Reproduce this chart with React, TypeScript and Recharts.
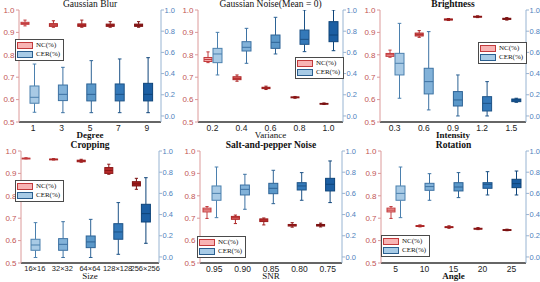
import React from "react";
import { ComposedChart, Bar, XAxis, YAxis, Legend } from "recharts";

type Stats = [number, number, number, number, number]; // min, q1, median, q3, max

// ---------- data ----------
const blurCats = ["1", "3", "5", "7", "9"];
const blurNC: Stats[] = [
  [0.929, 0.936, 0.94, 0.945, 0.955],
  [0.923, 0.927, 0.933, 0.939, 0.952],
  [0.923, 0.927, 0.932, 0.938, 0.955],
  [0.923, 0.927, 0.932, 0.937, 0.948],
  [0.923, 0.927, 0.932, 0.937, 0.948],
];
const blurCER: Stats[] = [
  [0.035, 0.12, 0.176, 0.283, 0.49],
  [0.031, 0.145, 0.204, 0.292, 0.459],
  [0.031, 0.142, 0.204, 0.302, 0.522],
  [0.031, 0.142, 0.204, 0.302, 0.538],
  [0.031, 0.142, 0.204, 0.308, 0.55],
];

const noiseCats = ["0.2", "0.4", "0.6", "0.8", "1.0"];
const noiseNC: Stats[] = [
  [0.765, 0.77, 0.779, 0.788, 0.813],
  [0.682, 0.689, 0.695, 0.702, 0.71],
  [0.645, 0.649, 0.652, 0.655, 0.66],
  [0.606, 0.608, 0.61, 0.612, 0.614],
  [0.578, 0.58, 0.582, 0.583, 0.585],
];
const noiseCER: Stats[] = [
  [0.387, 0.503, 0.585, 0.638, 0.789],
  [0.497, 0.613, 0.648, 0.701, 0.827],
  [0.585, 0.638, 0.695, 0.764, 0.931],
  [0.607, 0.676, 0.723, 0.811, 1.0],
  [0.616, 0.701, 0.764, 0.89, 1.0],
];

const brightCats = ["0.3", "0.6", "0.9", "1.2", "1.5"];
const brightNC: Stats[] = [
  [0.789, 0.793, 0.8, 0.806, 0.821],
  [0.878, 0.884, 0.89, 0.897, 0.908],
  [0.953, 0.955, 0.958, 0.96, 0.962],
  [0.966, 0.968, 0.97, 0.972, 0.974],
  [0.955, 0.958, 0.961, 0.963, 0.966],
];
const brightCER: Stats[] = [
  [0.167, 0.387, 0.497, 0.591, 0.874],
  [0.057, 0.208, 0.324, 0.45, 0.796],
  [0.0, 0.094, 0.151, 0.23, 0.387],
  [0.0, 0.047, 0.119, 0.182, 0.324],
  [0.129, 0.135, 0.151, 0.16, 0.167],
];

const cropCats = ["16×16", "32×32", "64×64", "128×128", "256×256"];
const cropNC: Stats[] = [
  [0.965, 0.966, 0.967, 0.968, 0.97],
  [0.96, 0.962, 0.963, 0.964, 0.966],
  [0.95, 0.952, 0.956, 0.959, 0.963],
  [0.896, 0.9, 0.913, 0.926, 0.941],
  [0.829, 0.844, 0.853, 0.863, 0.878],
];
const cropCER: Stats[] = [
  [-0.005, 0.063, 0.113, 0.167, 0.324],
  [-0.005, 0.063, 0.119, 0.173, 0.333],
  [-0.005, 0.088, 0.142, 0.198, 0.355],
  [0.025, 0.167, 0.236, 0.314, 0.513],
  [0.129, 0.33, 0.409, 0.497, 0.748],
];

const spCats = ["0.95", "0.90", "0.85", "0.80", "0.75"];
const spNC: Stats[] = [
  [0.699, 0.728, 0.737, 0.745, 0.752],
  [0.676, 0.695, 0.702, 0.708, 0.714],
  [0.67, 0.685, 0.692, 0.697, 0.701],
  [0.66, 0.665, 0.669, 0.672, 0.68],
  [0.661, 0.665, 0.669, 0.672, 0.678],
];
const spCER: Stats[] = [
  [0.371, 0.535, 0.6, 0.67, 0.849],
  [0.45, 0.585, 0.638, 0.679, 0.78],
  [0.503, 0.597, 0.648, 0.695, 0.818],
  [0.535, 0.632, 0.67, 0.701, 0.796],
  [0.513, 0.623, 0.686, 0.742, 0.906],
];

const rotCats = ["5", "10", "15", "20", "25"];
const rotNC: Stats[] = [
  [0.699, 0.728, 0.736, 0.745, 0.752],
  [0.661, 0.663, 0.665, 0.667, 0.67],
  [0.655, 0.658, 0.66, 0.662, 0.666],
  [0.649, 0.651, 0.653, 0.655, 0.658],
  [0.644, 0.646, 0.647, 0.649, 0.651],
];
const rotCER: Stats[] = [
  [0.371, 0.535, 0.6, 0.67, 0.849],
  [0.535, 0.629, 0.664, 0.695, 0.786],
  [0.56, 0.623, 0.66, 0.701, 0.796],
  [0.585, 0.648, 0.686, 0.701, 0.805],
  [0.585, 0.654, 0.692, 0.733, 0.811],
];

const leftTicks = [0.5, 0.6, 0.7, 0.8, 0.9, 1.0];
const rightTicks = [0, 0.2, 0.4, 0.6, 0.8, 1.0];

// ---------- styles ----------
const NC_FILL = ["#f6a9a9", "#e36d6d", "#cc3a3a", "#b72828", "#a51d1d"];
const NC_STROKE = ["#c23a3c", "#ae2727", "#9b1c1c", "#8a1616", "#7a1111"];
const CER_FILL = ["#a8cae5", "#82b2d9", "#5b98c9", "#3479b9", "#1c5fa3"];
const CER_STROKE = ["#4b80ae", "#3d72a3", "#2d6395", "#1d5387", "#0e4479"];

const legendItems = [
  { name: "NC(%)", fill: "#f8b4b4", stroke: "#c23a3c" },
  { name: "CER(%)", fill: "#a8cbe6", stroke: "#2b5f8f" },
];

const SERIF = "'Liberation Serif', 'Times New Roman', serif";
const SANS = "'Liberation Sans', Arial, sans-serif";

interface Panel {
  title: string;
  titleBold: boolean;
  xLabel: string;
  labelBold: boolean;
  cats: string[];
  nc: Stats[];
  cer: Stats[];
  col: number;
  row: number;
  plot: { l: number; r: number; t: number; b: number };
  legend: { x: number; y: number };
  tickSize: number;
  spacer: number;
}

const panels: Panel[] = [
  { title: "Gaussian Blur", titleBold: false, xLabel: "Degree", labelBold: true, cats: blurCats, nc: blurNC, cer: blurCER, col: 0, row: 0, plot: { l: 19, r: 161, t: 10, b: 122 }, legend: { x: 15, y: 39 }, tickSize: 8.5, spacer: 6 },
  { title: "Gaussian Noise(Mean = 0)", titleBold: false, xLabel: "Variance", labelBold: false, cats: noiseCats, nc: noiseNC, cer: noiseCER, col: 1, row: 0, plot: { l: 198, r: 343, t: 10, b: 122 }, legend: { x: 115, y: 57 }, tickSize: 8.5, spacer: 0 },
  { title: "Brightness", titleBold: true, xLabel: "Intensity", labelBold: true, cats: brightCats, nc: brightNC, cer: brightCER, col: 2, row: 0, plot: { l: 380, r: 526, t: 10, b: 122 }, legend: { x: 118, y: 42 }, tickSize: 8.5, spacer: 0 },
  { title: "Cropping", titleBold: true, xLabel: "Size", labelBold: false, cats: cropCats, nc: cropNC, cer: cropCER, col: 0, row: 1, plot: { l: 21, r: 159, t: 151, b: 263 }, legend: { x: 15, y: 39 }, tickSize: 7.5, spacer: 6 },
  { title: "Salt-and-pepper Noise", titleBold: true, xLabel: "SNR", labelBold: false, cats: spCats, nc: spNC, cer: spCER, col: 1, row: 1, plot: { l: 200, r: 342, t: 151, b: 263 }, legend: { x: 17, y: 95 }, tickSize: 8.5, spacer: 3 },
  { title: "Rotation", titleBold: true, xLabel: "Angle", labelBold: true, cats: rotCats, nc: rotNC, cer: rotCER, col: 2, row: 1, plot: { l: 381, r: 526, t: 151, b: 263 }, legend: { x: 21, y: 94 }, tickSize: 8.5, spacer: 0 },
];

function makeBoxShape(statKey: "ncStats" | "cerStats", fills: string[], strokes: string[]) {
  return (props: any) => {
    const { x, y, width, height, payload } = props;
    if (!payload) return <g />;
    const st: Stats = payload[statKey];
    const i: number = payload.i;
    const [mn, q1, md, q3, mx] = st;
    const top = Math.min(y, y + height);
    const h = Math.abs(height);
    const k = h / (mx - mn);
    const py = (v: number) => top + (mx - v) * k;
    const cx = x + width / 2;
    const cap = width * 0.4;
    const stroke = strokes[i];
    const boxTop = py(q3);
    const boxH = Math.max(py(q1) - py(q3), 0.8);
    return (
      <g>
        <line x1={cx} x2={cx} y1={py(mx)} y2={py(q3)} stroke={stroke} strokeWidth={1} />
        <line x1={cx} x2={cx} y1={py(q1)} y2={py(mn)} stroke={stroke} strokeWidth={1} />
        <line x1={cx - cap / 2} x2={cx + cap / 2} y1={py(mx)} y2={py(mx)} stroke={stroke} strokeWidth={1} />
        <line x1={cx - cap / 2} x2={cx + cap / 2} y1={py(mn)} y2={py(mn)} stroke={stroke} strokeWidth={1} />
        <rect x={x} y={boxTop} width={width} height={boxH} fill={fills[i]} stroke={stroke} strokeWidth={1} />
        <line x1={x} x2={x + width} y1={py(md)} y2={py(md)} stroke={stroke} strokeWidth={1} />
      </g>
    );
  };
}

const ncShape = makeBoxShape("ncStats", NC_FILL, NC_STROKE);
const cerShape = makeBoxShape("cerStats", CER_FILL, CER_STROKE);
const emptyShape = () => <g />;

const LegendBox = () => (
  <div
    style={{
      width: 46,
      height: 19,
      border: "1px solid #4a4a4a",
      background: "#fff",
      fontFamily: SERIF,
      fontSize: 7,
      color: "#111",
      padding: "1px 0 0 1px",
      boxSizing: "content-box",
    }}
  >
    {legendItems.map((it) => (
      <div key={it.name} style={{ display: "flex", alignItems: "center", height: 9 }}>
        <span
          style={{
            display: "inline-block",
            width: 14,
            height: 5,
            background: it.fill,
            border: `1px solid ${it.stroke}`,
            marginRight: 3,
          }}
        />
        <span style={{ lineHeight: "9px" }}>{it.name}</span>
      </div>
    ))}
  </div>
);

function PanelChart({ p }: { p: Panel }) {
  const ox = p.col * 180;
  const oy = p.row * 141;
  const data = p.cats.map((c, i) => ({
    cat: c,
    i,
    ncRange: [p.nc[i][0], p.nc[i][4]],
    cerRange: [p.cer[i][0], p.cer[i][4]],
    ncStats: p.nc[i],
    cerStats: p.cer[i],
  }));
  const leftW = p.plot.l - ox;
  const rightW = ox + 180 - p.plot.r;
  const bottomH = oy + 141 - p.plot.b;
  return (
    <div style={{ position: "absolute", left: ox, top: oy, width: 180, height: 141 }}>
      <div
        style={{
          position: "absolute",
          left: leftW,
          width: p.plot.r - p.plot.l,
          top: -1,
          textAlign: "center",
          fontFamily: SERIF,
          fontSize: 9.5,
          fontWeight: p.titleBold ? 700 : 400,
          lineHeight: "11px",
          color: "#111",
          whiteSpace: "nowrap",
        }}
      >
        {p.title}
      </div>
      <ComposedChart
        width={180}
        height={141}
        data={data}
        margin={{ top: p.plot.t - oy, right: 0, left: 0, bottom: 0 }}
        barGap={1}
      >
        <XAxis
          dataKey="cat"
          type="category"
          interval={0}
          height={bottomH}
          tickLine={false}
          tickSize={0}
          tickMargin={2.5}
          axisLine={{ stroke: "#333", strokeWidth: 1.6 }}
          tick={{ fill: "#222", fontSize: p.tickSize, fontFamily: SANS }}
          label={{
            value: p.xLabel,
            position: "insideBottom",
            offset: 3,
            fill: "#111",
            fontSize: 9,
            fontFamily: SERIF,
            fontWeight: p.labelBold ? 700 : 400,
          }}
        />
        <YAxis
          yAxisId="left"
          orientation="left"
          width={leftW}
          domain={[0.5, 1.0]}
          allowDataOverflow
          ticks={leftTicks}
          tickFormatter={(v: number) => v.toFixed(1)}
          tickSize={3}
          tickMargin={1.5}
          axisLine={{ stroke: "#dc9a9a" }}
          tickLine={{ stroke: "#dc9a9a" }}
          tick={{ fill: "#c25454", fontSize: 8, fontFamily: SANS }}
        />
        <YAxis
          yAxisId="right"
          orientation="right"
          width={rightW}
          domain={[-0.057, 1.0]}
          allowDataOverflow
          ticks={rightTicks}
          tickFormatter={(v: number) => v.toFixed(1)}
          tickSize={3}
          tickMargin={0.5}
          axisLine={{ stroke: "#98b4d2" }}
          tickLine={{ stroke: "#98b4d2" }}
          tick={{ fill: "#4f81bd", fontSize: 7.5, fontFamily: SANS }}
        />
        <Bar
          yAxisId="left"
          dataKey="ncRange"
          name="NC(%)"
          barSize={8}
          fill={legendItems[0].fill}
          shape={ncShape}
          isAnimationActive={false}
        />
        <Bar
          yAxisId="right"
          dataKey="cerRange"
          name="CER(%)"
          barSize={9}
          fill={legendItems[1].fill}
          shape={cerShape}
          isAnimationActive={false}
        />
        {p.spacer > 0 && (
          <Bar
            yAxisId="left"
            dataKey="ncRange"
            name="spacer"
            legendType="none"
            barSize={p.spacer}
            fill="none"
            shape={emptyShape}
            isAnimationActive={false}
          />
        )}
        <Legend
          layout="vertical"
          align="center"
          verticalAlign="middle"
          wrapperStyle={{ left: p.legend.x, top: p.legend.y, width: 48, height: 21 }}
          content={() => <LegendBox />}
        />
      </ComposedChart>
    </div>
  );
}

export default function App() {
  return (
    <div style={{ position: "absolute", left: 0, top: 0, width: 540, height: 282, background: "#fff", overflow: "hidden" }}>
      {panels.map((p) => (
        <PanelChart key={p.title} p={p} />
      ))}
    </div>
  );
}
